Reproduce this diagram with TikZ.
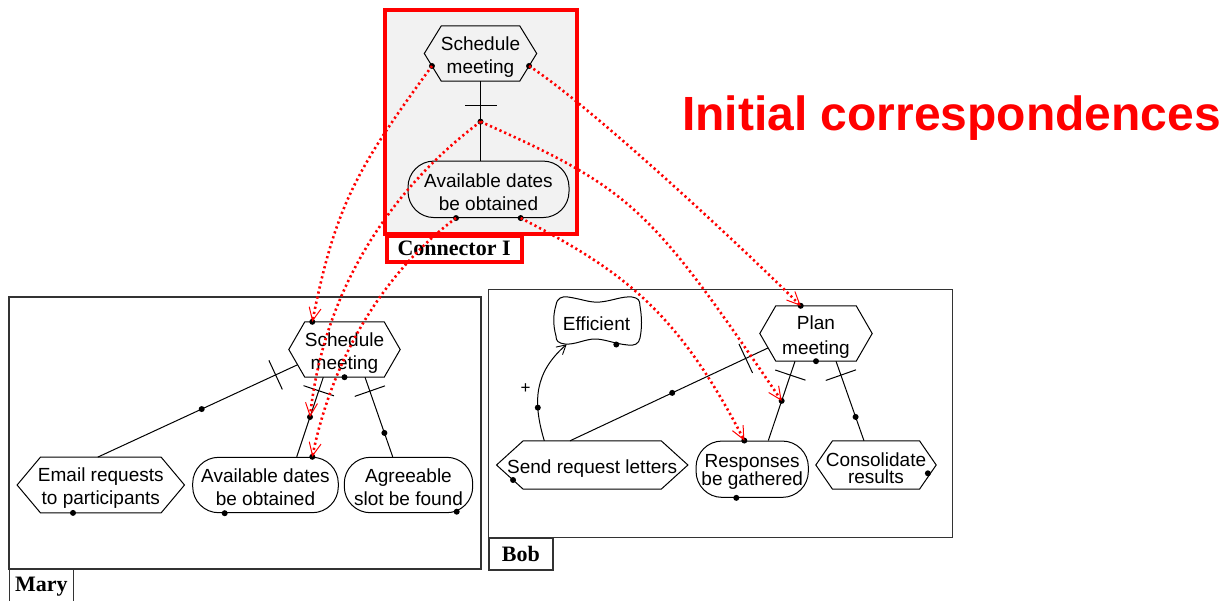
\documentclass[tikz,border=0pt]{standalone}
\usepackage{fontspec}
\setmainfont{Liberation Sans}
\newfontfamily\tagfont{Liberation Serif}
\usetikzlibrary{arrows.meta,calc}

% hexagonal task node: name, position, width, height, corner inset, text
\newcommand\hexnode[6]{%
  \node[minimum width=#3, minimum height=#4] (#1) at #2 {};
  \node[lbl] (#1-text) at ($(#1.center)+(0,3.5)$) {#6};
  \path (#1.north west) ++(#5,0) coordinate (#1-tl)
        (#1.north east) ++(-#5,0) coordinate (#1-tr)
        (#1.south west) ++(#5,0) coordinate (#1-bl)
        (#1.south east) ++(-#5,0) coordinate (#1-br);
  \draw[shapeline] (#1.west) -- (#1-tl) -- (#1-tr) -- (#1.east) -- (#1-br) -- (#1-bl) -- cycle;
}
% rounded goal node: name, position, width, height, text
\newcommand\goalnode[5]{%
  \node[goalbox, minimum width=#3, minimum height=#4] (#1) at #2 {};
  \node[lbl] (#1-text) at ($(#1.center)+(0,2.5)$) {#5};
}

\begin{document}
\begin{tikzpicture}[x=1pt,y=-1pt, every node/.style={inner sep=0pt},
  lbl/.style={font=\fontsize{19}{23}\selectfont, align=center},
  shapeline/.style={draw=black, line width=1pt, line join=miter},
  goalbox/.style={draw=black, line width=1pt, rounded corners=26pt},
  link/.style={draw=black, line width=1pt},
  tick/.style={draw=black, line width=1pt, sloped, minimum width=0.01pt, minimum height=31pt},
  dot/.style={circle, fill=black, minimum size=6pt},
  frame/.style={draw=black!80, line width=1.2pt},
  tag/.style={font=\tagfont\bfseries\fontsize{22}{24}\selectfont},
  corr/.style={draw=red, line width=2.6pt, dash pattern=on 2.2pt off 3pt,
    -{Straight Barb[length=13pt,width=12pt,line width=1pt]}},
]
\useasboundingbox (0,0) rectangle (1226,600);

% ---------- owner frames ----------
\draw[frame] (9,297) rectangle (481,569);
\node[tag, frame, anchor=north west, minimum width=63.7, minimum height=34] (maryTag) at (9,569) {Mary};
\draw[frame] (488.3,289.7) rectangle (952.3,537.3);
\node[tag, frame, anchor=north west, minimum width=64, minimum height=32] (bobTag) at (488.3,537.3) {Bob};

\draw[draw=red, line width=4pt, fill=black!5] (384.7,10) rectangle (577,233.8);
\node[tag, draw=red, line width=4pt, fill=white, anchor=north west, minimum width=134.8, minimum height=25.7] (connTag) at (384.7,233.8) {Connector I};

\node[font=\bfseries\fontsize{48}{56}\selectfont, text=red, anchor=base west] (title) at (682,130) {Initial correspondences};

% ---------- Connector I ----------
\hexnode{cSM}{(480.5,53.5)}{112}{55}{17}{Schedule\\meeting}
\goalnode{cAD}{(488.5,189.3)}{161}{56.5}{Available dates\\be obtained}
\draw[link] (cSM.south) -- node[tick,pos=0.31] (cT) {} node[dot,pos=0.51] (cJ) {} (cSM.south |- cAD.north);
\node[dot] (cSMl) at ($(cSM.west)!0.45!(cSM-bl)$) {};
\node[dot] (cSMr) at ($(cSM.east)!0.45!(cSM-br)$) {};
\node[dot] (cADl) at ($(cAD.south)+(-32.5,0)$) {};
\node[dot] (cADr) at ($(cAD.south)+(32.2,0)$) {};

% ---------- Mary ----------
\hexnode{mSM}{(344.5,349.5)}{111}{55}{16}{Schedule\\meeting}
\hexnode{mER}{(100.8,485)}{167}{55.4}{23.4}{Email requests\\to participants}
\goalnode{mAD}{(265.5,485)}{145.6}{55.4}{Available dates\\be obtained}
\goalnode{mAS}{(408.5,485)}{128.4}{55.4}{Agreeable\\slot be found}

\draw[link] ($(mSM.west)!0.55!(mSM-bl)$) -- node[tick,pos=0.11] (mT1) {} node[dot,pos=0.48] (mJ1) {} ($(mER.north)+(-3,0)$);
\draw[link] ($(mSM.south)+(-21.2,0)$) -- node[tick,pos=0.17] (mT2) {} node[dot,pos=0.5] (mJ) {} ($(mAD.north)+(31.2,0)$);
\draw[link] ($(mSM.south)+(20.5,0)$) -- node[tick,pos=0.175] (mT3) {} node[dot,pos=0.7] (mJ3) {} ($(mAS.north)+(-15.8,0)$);

\node[dot] (mSMt) at ($(mSM.north)+(-32.2,0)$) {};
\node[dot] (mSMb) at (mSM.south) {};
\node[dot] (mERb) at ($(mER.south)+(-27.8,0)$) {};
\node[dot] (mADt) at ($(mAD.north)+(46.8,0)$) {};
\node[dot] (mADb) at ($(mAD.south)+(-40.8,0)$) {};
\node[dot] (mASb) at ($(mAS.south)+(48.2,-1.5)$) {};

% ---------- Bob ----------
\hexnode{bPM}{(816,333.5)}{112}{55}{16}{Plan\\[2pt]meeting}
\node[minimum width=83, minimum height=47] (bEF) at (596.5,321.5) {};
\node[lbl] (bEF-text) at ($(bEF.center)+(0,2)$) {Efficient};
\draw[shapeline, shift={(bEF.center)}]
  (-40.5,14.5) .. controls (-43.5,3.5) and (-43.5,-6.5) .. (-40.5,-16.5)
  .. controls (-39.5,-23.5) and (-34.5,-25.5) .. (-28.5,-24.5)
  .. controls (-14.5,-22.5) and (-6.5,-18.5) .. (3.5,-19.5)
  .. controls (15.5,-20.5) and (25.5,-25.5) .. (35.5,-24.5)
  .. controls (41.5,-23.5) and (43.5,-21.5) .. (43.5,-15.5)
  .. controls (45.5,-3.5) and (45.5,6.5) .. (43.5,16.5)
  .. controls (42.5,22.5) and (37.5,24.5) .. (31.5,23.5)
  .. controls (18.5,22.5) and (8.5,17.5) .. (-1.5,17.5)
  .. controls (-11.5,17.5) and (-21.5,23.5) .. (-31.5,22.5)
  .. controls (-38.5,21.5) and (-40.5,19.5) .. (-40.5,14.5) -- cycle;
\hexnode{bSR}{(592.2,465)}{191}{48}{26.7}{Send request letters}
\goalnode{bRG}{(752.2,469.2)}{112.3}{56.3}{Responses\\[-5pt]be gathered}
\hexnode{bCR}{(876,465)}{120}{48}{16.7}{Consolidate\\[-6pt]results}

\draw[link] ($(bPM.west)!0.52!(bPM-bl)$) -- node[tick,pos=0.113] (bT1) {} node[dot,pos=0.484] (bJ1) {} ($(bSR.north)+(-22.2,0)$);
\draw[link] ($(bPM.south)+(-21,0)$) -- node[tick,pos=0.175] (bT2) {} node[dot,pos=0.5] (bJ) {} ($(bRG.north)+(16.1,0)$);
\draw[link] ($(bPM.south)+(20,0)$) -- node[tick,pos=0.175] (bT3) {} node[dot,pos=0.7] (bJ3) {} ($(bCR.north)+(-12,0)$);

% contribution from Send request letters to Efficient
\draw[link, -{Straight Barb[length=9pt,width=10pt,line width=0.9pt]}]
  ($(bSR.north)+(-47.9,0)$) .. controls +(-12,-40) and +(-32,28) .. ($(bEF.center)+(-29.8,22.8)$)
  node[dot,pos=0.3] (arcDot) {};
\node[font=\fontsize{17}{20}\selectfont] (plus) at (525.7,389) {+};

\node[dot] (bPMt) at ($(bPM.north)+(-15.3,0)$) {};
\node[dot] (bPMb) at (bPM.south) {};
\node[dot] (bEFb) at ($(bEF.center)+(19.8,23)$) {};
\node[dot] (bSRl) at ($(bSR.west)!0.62!(bSR-bl)$) {};
\node[dot] (bRGt) at ($(bRG.north)+(-7.9,0)$) {};
\node[dot] (bRGb) at ($(bRG.south)+(-15.9,0)$) {};
\node[dot] (bCRr) at ($(bCR.east)+(-8.3,8.3)$) {};

% ---------- correspondences ----------
\draw[corr] (cSMl.center) .. controls (357.5,167.8) and (335.8,204.3) .. (mSMt.center);
\draw[corr] (cSMr.center) .. controls (588.8,104.6) and (741.2,246.2) .. (bPMt.center);
\draw[corr] (cJ.center) .. controls (386.6,192.1) and (323,294.9) .. (mJ.center);
\draw[corr] (cJ.center) .. controls (634,190) and (651,209) .. (bJ.center);
\draw[corr] (cADl.center) .. controls (395.1,263.4) and (335.5,343.6) .. (mADt.center);
\draw[corr] (cADr.center) .. controls (622.3,270.9) and (676.5,309.5) .. (bRGt.center);
\end{tikzpicture}
\end{document}
